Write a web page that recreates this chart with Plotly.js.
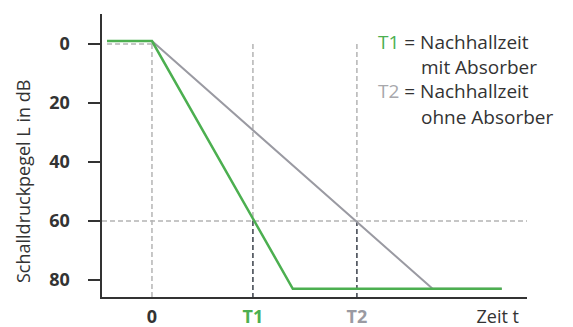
<!DOCTYPE html>
<html>
<head>
<meta charset="utf-8">
<script src="https://cdn.plot.ly/plotly-3.0.1.min.js"></script>
<style>html,body{margin:0;padding:0;background:#fff;}#chart{width:573px;height:327px;}</style>
</head>
<body>
<div id="chart"></div>
<script>
// ---- data (time in arbitrary units, level in dB) ----
const T1 = 2.0;
const T2 = 4.06;
const refLevel = 60;
const startLevel = 0;
const tStart = -0.89;

const greenX = [-0.89, 0, 2.79, 6.93];
const greenY = [-1, -1, 83, 83];
const grayX = [-0.89, 0, 5.56, 6.93];
const grayY = [-1, -1, 83, 83];

const yTicks = [0, 20, 40, 60, 80];
const xTickVals = [0, T1, T2, 6.85];
const xTickText = ['0', '<span style="color:#4caf50">T1</span>', '<span style="color:#9a9aa2">T2</span>', '<span style="font-weight:normal">Zeit t</span>'];

const xRange = [-0.99, 7.43];
const yRange = [85.8, -10.2];

const legendLines = [
  {text: '<span style="color:#4caf50">T1</span> = Nachhallzeit', indent: false},
  {text: 'mit Absorber', indent: true},
  {text: '<span style="color:#a8a8ac">T2</span> = Nachhallzeit', indent: false},
  {text: 'ohne Absorber', indent: true}
];
const yTitle = 'Schalldruckpegel L in dB';

// ---- layout helpers ----
const W = 573, H = 327;
const M = {l: 102, r: 46, t: 14, b: 30};
const pw = W - M.l - M.r, ph = H - M.t - M.b;
const px = p => (p - M.l) / pw;
const py = p => (H - M.b - p) / ph;

const light = '#b4b4b4';
const dark = '#3a404a';
const dashL = '5px,3px';
const FONT = 'Open Sans, sans-serif';

const traces = [
  {x: [xRange[0], xRange[1]], y: [refLevel, refLevel], mode: 'lines', line: {color: light, width: 1.5, dash: dashL}},
  {x: [tStart, 0], y: [startLevel, startLevel], mode: 'lines', line: {color: light, width: 1.5, dash: dashL}},
  {x: [0, 0], y: [startLevel, yRange[0]], mode: 'lines', line: {color: light, width: 1.5, dash: dashL}},
  {x: [T1, T1], y: [startLevel, refLevel], mode: 'lines', line: {color: light, width: 1.5, dash: dashL}},
  {x: [T2, T2], y: [startLevel, refLevel], mode: 'lines', line: {color: light, width: 1.5, dash: dashL}},
  {x: [T1, T1], y: [refLevel, yRange[0]], mode: 'lines', line: {color: dark, width: 1.5, dash: dashL}},
  {x: [T2, T2], y: [refLevel, yRange[0]], mode: 'lines', line: {color: dark, width: 1.5, dash: dashL}},
  {x: grayX, y: grayY, mode: 'lines', line: {color: '#9a9aa2', width: 2}},
  {x: greenX, y: greenY, mode: 'lines', line: {color: '#4caf50', width: 2.5}}
];

const annotations = [];
const legY = [42, 67, 91, 117];
legendLines.forEach((l, i) => {
  annotations.push({
    xref: 'paper', yref: 'paper', x: px(l.indent ? 419 : 376), y: py(legY[i]),
    xanchor: 'left', yanchor: 'middle', showarrow: false, text: l.text,
    font: {family: FONT, size: 19, color: '#333'}
  });
});
annotations.push({
  xref: 'paper', yref: 'paper', x: px(23), y: py(182), xanchor: 'center', yanchor: 'middle',
  textangle: -90, showarrow: false, text: yTitle,
  font: {family: FONT, size: 18, color: '#333'}
});

const layout = {
  width: W, height: H,
  margin: M,
  showlegend: false,
  paper_bgcolor: '#fff', plot_bgcolor: '#fff',
  xaxis: {
    range: xRange, showgrid: false, zeroline: false,
    showline: true, linecolor: '#333', linewidth: 2,
    ticks: '', tickvals: xTickVals, ticktext: xTickText,
    tickfont: {family: FONT, size: 18, color: '#333', weight: 'bold'},
    ticklabelstandoff: 2
  },
  yaxis: {
    range: yRange, showgrid: false, zeroline: false,
    showline: true, linecolor: '#333', linewidth: 2.5,
    ticks: 'outside', ticklen: 12, tickwidth: 1.5, tickcolor: '#333',
    tickvals: yTicks,
    tickfont: {family: FONT, size: 18, color: '#333', weight: 'bold'},
    ticklabelstandoff: 14
  },
  annotations: annotations
};

Plotly.newPlot('chart', traces, layout, {staticPlot: true, displayModeBar: false});
</script>
</body>
</html>
